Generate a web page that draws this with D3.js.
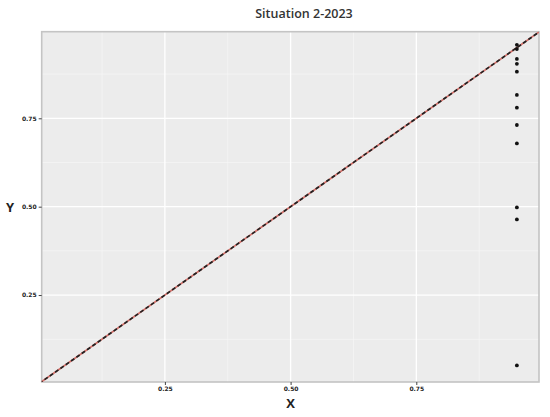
<!DOCTYPE html>
<html>
<head>
<meta charset="utf-8">
<style>
  body { margin: 0; background: #fff; }
  text { font-family: "Open Sans", "DejaVu Sans", sans-serif; }
</style>
</head>
<body>
<svg id="chart" width="550" height="417"></svg>
<script src="https://cdn.jsdelivr.net/npm/d3@7"></script>
<script>
// ---- data ----
var xValues = [0.95, 0.95, 0.95, 0.95, 0.95, 0.95, 0.95, 0.95, 0.95, 0.95, 0.95, 0.95];
var yValues = [0.958, 0.946, 0.918, 0.904, 0.882, 0.816, 0.780, 0.731, 0.679, 0.498, 0.464, 0.051];
var majorTicks = [0.25, 0.50, 0.75];
var minorTicks = [0.125, 0.375, 0.625, 0.875];
var refLine = [0, 1];   // the y = x line
var xDomain = [0.005, 0.994],
    yDomain = [0.004, 0.995];

var svg = d3.select("#chart"),
    margin = {top: 31.7, right: 11, bottom: 35, left: 41.7},
    width = 550 - margin.left - margin.right,
    height = 417 - margin.top - margin.bottom;

var x = d3.scaleLinear().domain(xDomain).range([0, width]),
    y = d3.scaleLinear().domain(yDomain).range([height, 0]);

var g = svg.append("g")
    .attr("transform", "translate(" + margin.left + "," + margin.top + ")");

svg.append("defs").append("clipPath").attr("id", "clip")
  .append("rect").attr("width", width).attr("height", height);

// panel
g.append("rect")
    .attr("width", width)
    .attr("height", height)
    .attr("fill", "#ececec");

// minor grid
g.append("g").selectAll("line").data(minorTicks).enter().append("line")
    .attr("x1", function(d) { return x(d); }).attr("x2", function(d) { return x(d); })
    .attr("y1", 0).attr("y2", height)
    .attr("stroke", "#f6f6f6").attr("stroke-width", 0.7);
g.append("g").selectAll("line").data(minorTicks).enter().append("line")
    .attr("y1", function(d) { return y(d); }).attr("y2", function(d) { return y(d); })
    .attr("x1", 0).attr("x2", width)
    .attr("stroke", "#f6f6f6").attr("stroke-width", 0.7);

// major grid
g.append("g").selectAll("line").data(majorTicks).enter().append("line")
    .attr("x1", function(d) { return x(d); }).attr("x2", function(d) { return x(d); })
    .attr("y1", 0).attr("y2", height)
    .attr("stroke", "#ffffff").attr("stroke-width", 1.3);
g.append("g").selectAll("line").data(majorTicks).enter().append("line")
    .attr("y1", function(d) { return y(d); }).attr("y2", function(d) { return y(d); })
    .attr("x1", 0).attr("x2", width)
    .attr("stroke", "#ffffff").attr("stroke-width", 1.3);

// panel frame
g.append("rect")
    .attr("width", width)
    .attr("height", height)
    .attr("fill", "none")
    .attr("stroke", "#c4c4c4")
    .attr("stroke-width", 1.6);

// axes
var xAxis = g.append("g")
    .attr("transform", "translate(0," + height + ")")
    .call(d3.axisBottom(x).tickValues(majorTicks).tickFormat(d3.format(".2f")).tickSize(3).tickPadding(2));
var yAxis = g.append("g")
    .call(d3.axisLeft(y).tickValues(majorTicks).tickFormat(d3.format(".2f")).tickSize(3).tickPadding(2));
[xAxis, yAxis].forEach(function(a) {
  a.select(".domain").remove();
  a.selectAll(".tick line").attr("stroke", "#444");
  a.selectAll(".tick text")
      .attr("fill", "#222")
      .style("font-size", "6px")
      .style("font-weight", "bold")
      .style("font-family", "'DejaVu Sans', sans-serif");
});

// y = x reference line, red under black dashes
var line = d3.line()
    .x(function(d) { return x(d); })
    .y(function(d) { return y(d); });
var ref = g.append("g").attr("clip-path", "url(#clip)");
ref.append("path")
    .datum(refLine)
    .attr("d", line)
    .attr("fill", "none")
    .attr("stroke", "#d4706a")
    .attr("stroke-width", 1.7);
ref.append("path")
    .datum(refLine)
    .attr("d", line)
    .attr("fill", "none")
    .attr("stroke", "#222")
    .attr("stroke-width", 1.7)
    .attr("stroke-dasharray", "4,2.5");

// points
g.selectAll(".pt")
    .data(yValues)
    .enter().append("circle")
    .attr("class", "pt")
    .attr("cx", function(d, i) { return x(xValues[i]); })
    .attr("cy", function(d) { return y(d); })
    .attr("r", 1.9)
    .attr("fill", "#111");

// titles
svg.append("text")
    .attr("x", 304)
    .attr("y", 18)
    .attr("text-anchor", "middle")
    .style("font-size", "12.5px")
    .style("font-weight", "600")
    .attr("fill", "#333")
    .text("Situation 2-2023");

svg.append("text")
    .attr("x", margin.left + x(0.5))
    .attr("y", 408)
    .attr("text-anchor", "middle")
    .style("font-size", "13px")
    .style("font-weight", "bold")
    .attr("fill", "#222")
    .text("X");

svg.append("text")
    .attr("x", 10)
    .attr("y", margin.top + y(0.5) + 5)
    .attr("text-anchor", "middle")
    .style("font-size", "13px")
    .style("font-weight", "bold")
    .attr("fill", "#222")
    .text("Y");
</script>
</body>
</html>
